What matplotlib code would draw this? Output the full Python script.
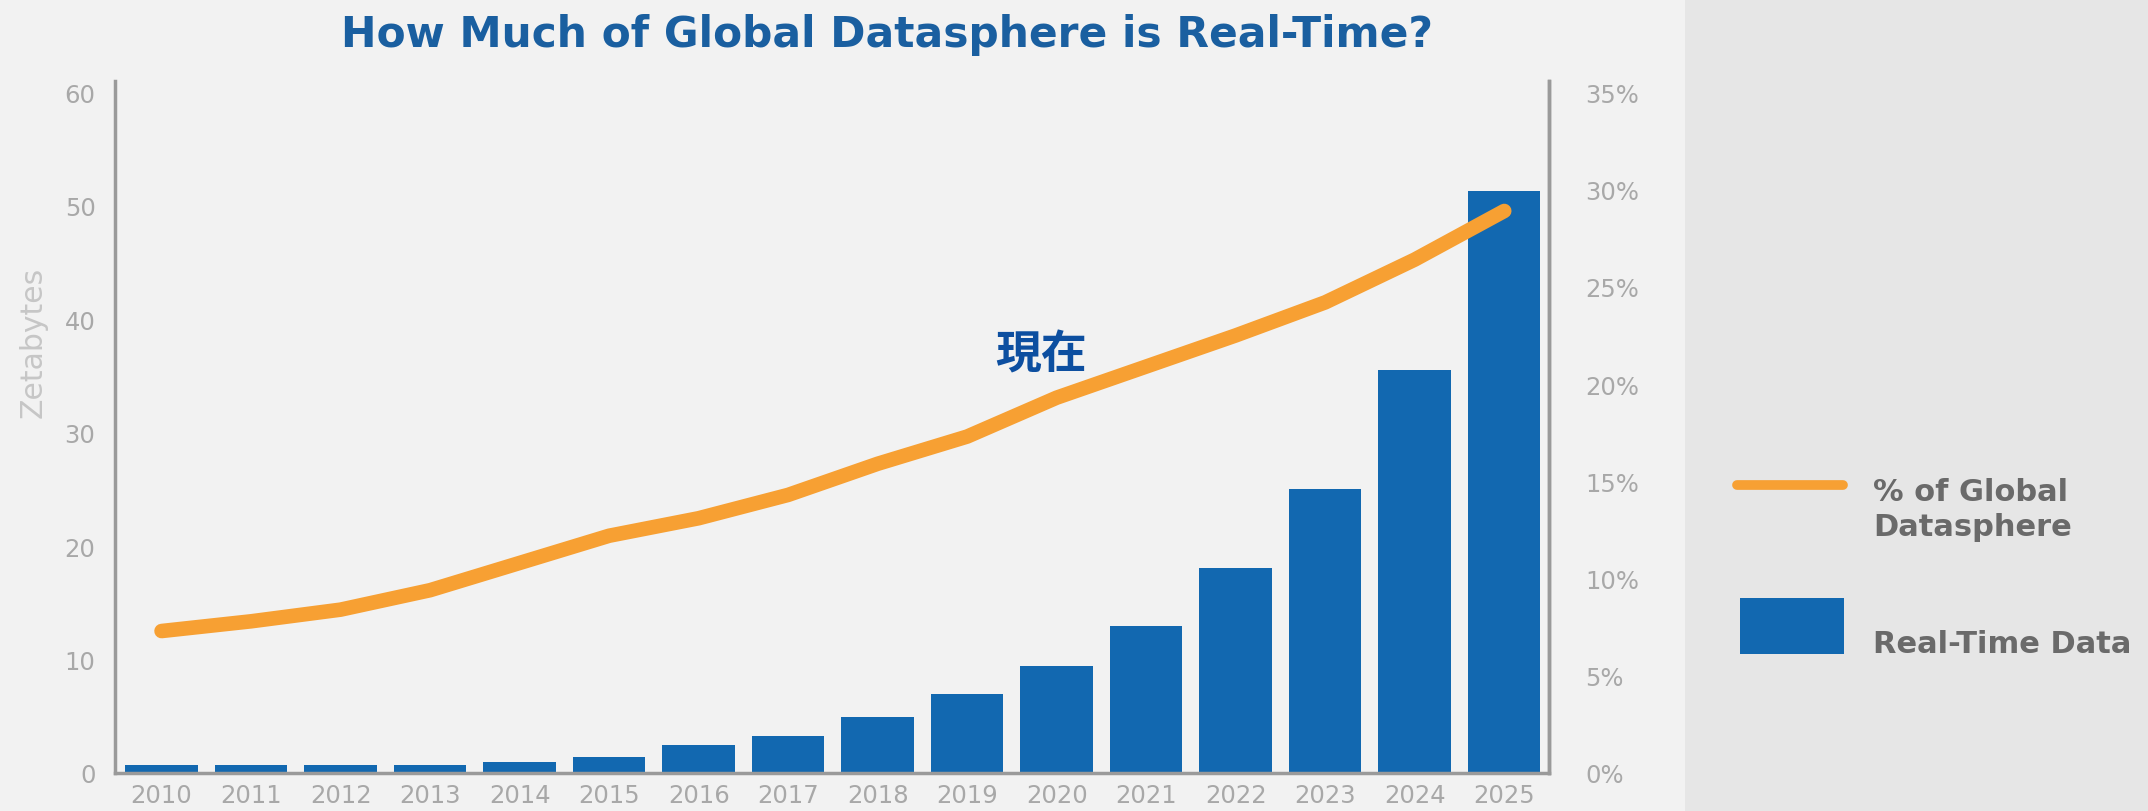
import matplotlib
matplotlib.use("Agg")
import matplotlib.pyplot as plt
from matplotlib.patches import Rectangle
from matplotlib.lines import Line2D
import numpy as np

years = ["2010", "2011", "2012", "2013", "2014", "2015", "2016", "2017",
         "2018", "2019", "2020", "2021", "2022", "2023", "2024", "2025"]
realtime_zb = [0.7, 0.7, 0.7, 0.7, 1.0, 1.45, 2.5, 3.3,
               4.95, 7.0, 9.4, 13.0, 18.1, 25.0, 35.5, 51.3]
pct_global = [7.3, 7.8, 8.4, 9.4, 10.8, 12.2, 13.1, 14.3,
              15.9, 17.3, 19.3, 20.9, 22.5, 24.2, 26.4, 28.9]
left_ticks = [0, 10, 20, 30, 40, 50, 60]
right_ticks = [0, 5, 10, 15, 20, 25, 30, 35]

BG = "#F2F2F2"
PANEL = "#E6E6E6"
BLUE = "#1268B0"
ORANGE = "#F7A033"
TICK = "#A8A8A8"
SPINE = "#9A9A9A"

plt.rcParams['font.family'] = ['DejaVu Sans']

fig = plt.figure(figsize=(21.48, 8.12), dpi=100)
fig.patch.set_facecolor(BG)
fig.add_artist(Rectangle((1685 / 2148, 0), 1 - 1685 / 2148, 1,
                         transform=fig.transFigure, facecolor=PANEL,
                         edgecolor="none", zorder=0))

ax = fig.add_axes([115 / 2148, 38 / 812, (1549 - 115) / 2148, (774 - 82) / 812])
ax.set_facecolor(BG)
x = np.arange(len(years))
bars = ax.bar(x, realtime_zb, width=0.81, color=BLUE, zorder=2)
ax.set_xlim(-0.52, len(years) - 0.5)
ax.set_ylim(0, 61)
ax.set_yticks(left_ticks)
ax.set_xticks(x)
ax.set_xticklabels(years)
ax.tick_params(axis='both', length=0, colors=TICK, labelsize=17.5)
ax.tick_params(axis='y', pad=14)
ax.tick_params(axis='x', pad=7)
for s in ["top"]:
    ax.spines[s].set_visible(False)
for s in ["left", "right", "bottom"]:
    ax.spines[s].set_color(SPINE)
    ax.spines[s].set_linewidth(2.5)

fig.text(33 / 2148, 1 - 342 / 812, "Zetabytes", rotation=90, ha='center',
         va='center', color="#C6C6C6", fontsize=21.5)

ax2 = ax.twinx()
ax2.patch.set_visible(False)
ax2.plot(x, pct_global, color=ORANGE, linewidth=10.5,
         solid_capstyle='round', solid_joinstyle='round', zorder=3)
ax2.set_ylim(0, 35 * 61 / 60)
ax2.set_yticks(right_ticks)
ax2.set_yticklabels([f"{t}%" for t in right_ticks])
ax2.tick_params(axis='y', length=0, colors=TICK, labelsize=17.5, pad=26)
for s in ["top", "left", "bottom"]:
    ax2.spines[s].set_visible(False)
ax2.spines["right"].set_color(SPINE)
ax2.spines["right"].set_linewidth(2.5)

fig.text(887 / 2148, 1 - 35 / 812, "How Much of Global Datasphere is Real-Time?",
         ha='center', va='center', fontsize=30.5, fontweight='bold',
         color="#1A5FA0")

ax.text(9.83, 36.9, "現在", ha='center', va='center', fontsize=33,
        fontweight='bold', color="#0D4FA0",
        family=['Noto Sans CJK JP', 'DejaVu Sans'], zorder=5)

# legend
fig.add_artist(Line2D([1737 / 2148, 1843 / 2148], [1 - 486 / 812, 1 - 486 / 812],
                      transform=fig.transFigure, color=ORANGE, linewidth=7,
                      solid_capstyle='round'))
fig.add_artist(Rectangle((1740 / 2148, 1 - 655 / 812), 104 / 2148, 56 / 812,
                         transform=fig.transFigure, facecolor=BLUE,
                         edgecolor="none"))
fig.text(1873 / 2148, 1 - 510 / 812, "% of Global\nDatasphere", ha='left',
         va='center', fontsize=22, fontweight='bold', color="#6A6A6A",
         linespacing=1.3)
fig.text(1873 / 2148, 1 - 645 / 812, "Real-Time Data", ha='left',
         va='center', fontsize=22, fontweight='bold', color="#6A6A6A")

fig.savefig("out.png", dpi=100, facecolor=fig.get_facecolor())
